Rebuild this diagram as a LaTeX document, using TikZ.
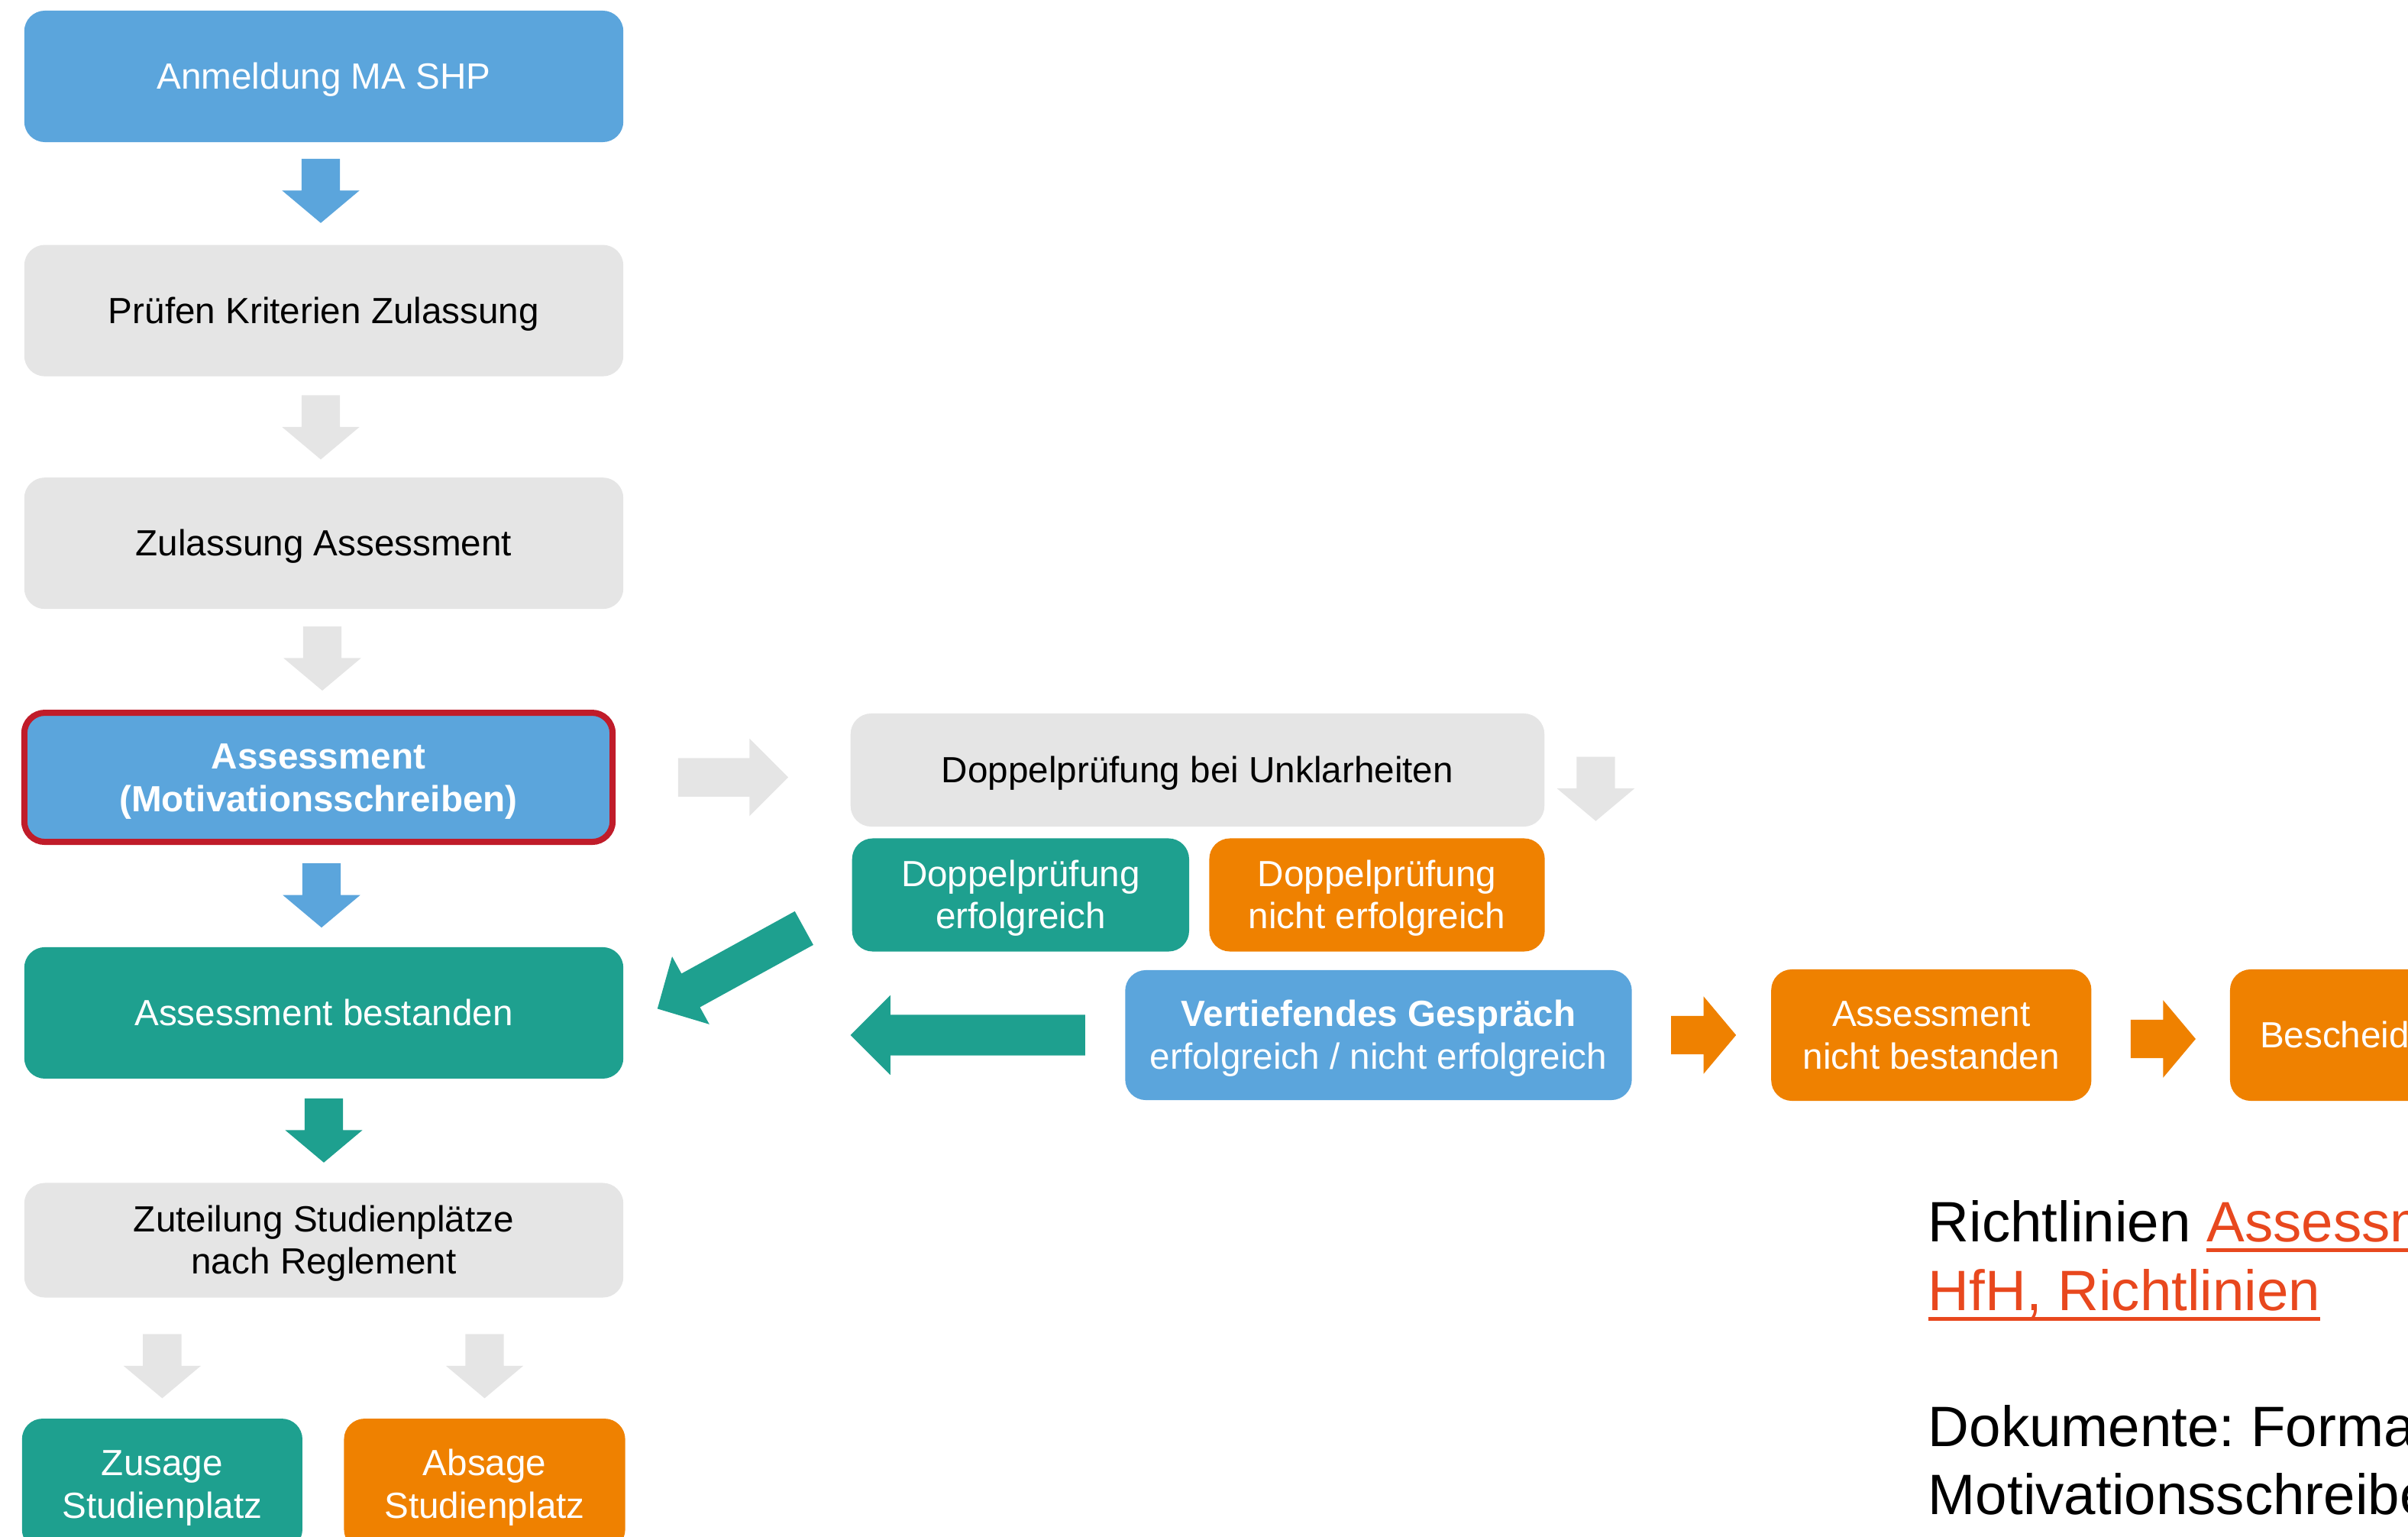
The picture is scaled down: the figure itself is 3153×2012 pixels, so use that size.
\documentclass[tikz,border=0pt]{standalone}
\usepackage{fontspec}
\setmainfont{Liberation Sans}
\usetikzlibrary{positioning,shapes.arrows}

\definecolor{hfhblue}{HTML}{5BA5DC}
\definecolor{hfhteal}{HTML}{1EA08F}
\definecolor{hfhorange}{HTML}{EF8100}
\definecolor{hfhgray}{HTML}{E5E5E5}
\definecolor{hfhred}{HTML}{C01C2A}
\definecolor{linkred}{HTML}{E8481E}

\frenchspacing
\newcommand{\boxfont}{\fontsize{13.55}{15.9}\selectfont}
\newcommand{\notefont}{\fontsize{21.2}{25.5}\selectfont}
\newcommand{\boxstrut}{\rule[-0.212em]{0pt}{1.117em}}
\newcommand{\twostrut}{\rule[-0.212em]{0pt}{\dimexpr1.117em+\baselineskip\relax}}
\newsavebox{\linkbox}
\newcommand{\linktext}[1]{{\color{linkred}\sbox{\linkbox}{#1}\rlap{\rule[-0.135cm]{\wd\linkbox}{0.05cm}}\usebox{\linkbox}}}

\begin{document}
\begin{tikzpicture}[x=0.01cm, y=-0.01cm,
                    box/.style={rectangle, rounded corners=0.27cm, minimum width=7.84cm,
                                minimum height=1.72cm, inner sep=0pt, align=center, font=\boxfont,
                                execute at begin node=\boxstrut},
                    twolines/.style={execute at begin node=\twostrut},
                    bluebox/.style={box, fill=hfhblue, text=white},
                    graybox/.style={box, fill=hfhgray, text=black},
                    tealbox/.style={box, fill=hfhteal, text=white},
                    orangebox/.style={box, fill=hfhorange, text=white},
                    blockarrow/.style={single arrow, inner xsep=0pt, inner ysep=0.245cm,
                                single arrow head extend=0.255cm, single arrow tip angle=100,
                                minimum height=0.84cm, anchor=tip},
                    note/.style={anchor=base west, inner sep=0pt, font=\notefont}]
                    \useasboundingbox (0,0) rectangle (3153,2012);
                    \clip (0,0) rectangle (3153,2012);
                    % linke Spalte
                    \node (anmeldung) [bluebox] at (424,100) {Anmeldung MA SHP};
                    \node (pruefen) [graybox, below=1.33cm of anmeldung] {Prüfen Kriterien Zulassung};
                    \node (zulassung) [graybox, below=1.31cm of pruefen] {Zulassung Assessment};
                    \node (assessment) [bluebox, twolines, draw=hfhred, line width=0.08cm, minimum width=7.7cm,
                                        minimum height=1.69cm, font=\boxfont\bfseries,
                                        below=1.31cm of zulassung, xshift=-0.07cm] {Assessment\\(Motivationsschreiben)};
                    \node (bestanden) [tealbox, below=1.33cm of assessment, xshift=0.07cm] {Assessment bestanden};
                    \node (zuteilung) [graybox, twolines, minimum height=1.5cm, below=1.35cm of bestanden] {Zuteilung Studienplätze\\nach Reglement};
                    \node (zusage) [tealbox, twolines, minimum width=3.67cm, below=1.57cm of zuteilung.south west,
                                    anchor=north west, xshift=-0.03cm] {Zusage\\Studienplatz};
                    \node (absage) [orangebox, twolines, minimum width=3.68cm, right=0.53cm of zusage] {Absage\\Studienplatz};
                    % rechte Seite
                    \node (doppel) [graybox, minimum width=9.08cm, minimum height=1.48cm] at (1568,1008) {Doppelprüfung bei Unklarheiten};
                    \node (doppelok) [tealbox, twolines, minimum width=4.41cm, minimum height=1.48cm,
                                      below=0.14cm of doppel.south west, anchor=north west, xshift=0.02cm] {Doppelprüfung\\erfolgreich};
                    \node (doppelnok) [orangebox, twolines, minimum width=4.39cm, minimum height=1.48cm, right=0.25cm of doppelok] {Doppelprüfung\\nicht erfolgreich};
                    \node (gespraech) [bluebox, twolines, minimum width=6.63cm, minimum height=1.7cm] at (1805,1355)
                                      {\textbf{Vertiefendes Gespräch}\\erfolgreich / nicht erfolgreich};
                    \node (nichtbest) [orangebox, twolines, minimum width=4.19cm, right=1.81cm of gespraech] {Assessment\\nicht bestanden};
                    \node (bescheid) [orangebox, minimum width=4.2cm, text width=3.42cm, align=left,
                                      right=1.8cm of nichtbest] {Bescheid};
                    % Pfeile
                    \node (p1) [blockarrow, fill=hfhblue, rotate=-90] at ([xshift=-0.04cm, yshift=0.27cm]pruefen.north) {};
                    \node (p2) [blockarrow, fill=hfhgray, rotate=-90] at ([xshift=-0.04cm, yshift=0.22cm]zulassung.north) {};
                    \node (p3) [blockarrow, fill=hfhgray, rotate=-90] at ([xshift=0.05cm, yshift=0.24cm]assessment.north) {};
                    \node (p4) [blockarrow, fill=hfhblue, rotate=-90] at ([xshift=-0.03cm, yshift=0.24cm]bestanden.north) {};
                    \node (p5) [blockarrow, fill=hfhteal, rotate=-90] at ([yshift=0.25cm]zuteilung.north) {};
                    \node (p6) [blockarrow, fill=hfhgray, rotate=-90] at ([yshift=0.25cm]zusage.north) {};
                    \node (p7) [blockarrow, fill=hfhgray, rotate=-90] at ([yshift=0.25cm]absage.north) {};
                    \node (p8) [blockarrow, fill=hfhgray, anchor=tail, minimum height=1.44cm,
                                single arrow tip angle=90] at ([xshift=0.81cm]assessment.east) {};
                    \node (p9) [blockarrow, fill=hfhgray, rotate=-90, anchor=tail] at ([xshift=0.665cm, yshift=0.18cm]doppel.east) {};
                    \node (p10) [blockarrow, fill=hfhteal, rotate=208.8, minimum height=2.19cm, inner ysep=0.244cm,
                                 single arrow tip angle=91] at ([xshift=0.43cm, yshift=0.05cm]bestanden.east) {};
                    \node (p11) [blockarrow, fill=hfhteal, rotate=180, anchor=tail, minimum height=3.07cm,
                                 inner ysep=0.26cm, single arrow tip angle=90] at ([xshift=-0.51cm]gespraech.west) {};
                    \node (p12) [blockarrow, fill=hfhorange, anchor=tail, minimum height=0.85cm] at ([xshift=0.5cm]gespraech.east) {};
                    \node (p13) [blockarrow, fill=hfhorange, anchor=tail, minimum height=0.85cm] at ([xshift=0.5cm, yshift=-0.05cm]nichtbest.east) {};
                    % Hinweise
                    \node (richt1) [note] at (2524,1625) {Richtlinien \linktext{Assessment}};
                    \node (richt2) [note] at ([yshift=-0.9cm]richt1.base west) {\linktext{HfH, Richtlinien}};
                    \node (doku1) [note] at ([yshift=-2.68cm]richt1.base west) {Dokumente: Formatvorlage};
                    \node (doku2) [note] at ([yshift=-0.89cm]doku1.base west) {Motivationsschreiben};
                \end{tikzpicture}
\end{document}
